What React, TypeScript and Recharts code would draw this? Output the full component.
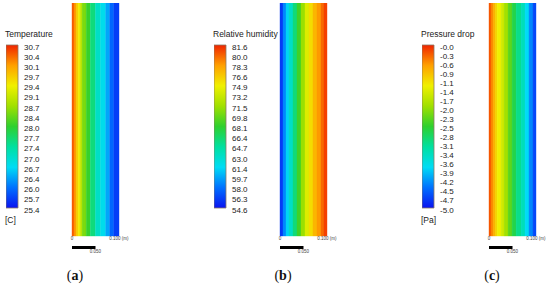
import React from 'react';
import { BarChart, Bar, XAxis, YAxis } from 'recharts';

// colour bar labels, top to bottom
const tempLabels = ['30.7', '30.4', '30.1', '29.7', '29.4', '29.1', '28.7', '28.4', '28.0', '27.7', '27.4', '27.0', '26.7', '26.4', '26.0', '25.7', '25.4'];
const rhLabels = ['81.6', '80.0', '78.3', '76.6', '74.9', '73.2', '71.5', '69.8', '68.1', '66.4', '64.7', '63.0', '61.4', '59.7', '58.0', '56.3', '54.6'];
const dpLabels = ['-0.0', '-0.3', '-0.6', '-0.9', '-1.1', '-1.4', '-1.7', '-2.0', '-2.3', '-2.5', '-2.8', '-3.1', '-3.4', '-3.6', '-3.9', '-4.2', '-4.5', '-4.7', '-5.0'];

// contour bands across the 0.100 m section, left to right: width (m) and field value
const tempWidths = [0.0043, 0.0043, 0.0043, 0.0043, 0.0043, 0.0087, 0.0087, 0.0109, 0.0109, 0.0109, 0.0087, 0.0087, 0.011];
const tempValues = [30.4, 30.1, 29.7, 29.4, 29.0, 28.5, 28.1, 27.6, 27.1, 26.8, 26.4, 26.0, 25.7];

const rhWidths = [0.0064, 0.0064, 0.0064, 0.0085, 0.0085, 0.0085, 0.0085, 0.0085, 0.0085, 0.0085, 0.0085, 0.0064, 0.0064];
const rhValues = [56.0, 58.7, 61.1, 63.2, 65.9, 68.6, 71.3, 74.0, 75.7, 77.3, 78.4, 79.7, 80.8];

const dpWidths = [0.0043, 0.0043, 0.0043, 0.0043, 0.0085, 0.0064, 0.0085, 0.0085, 0.0085, 0.0106, 0.0085, 0.0085, 0.0085, 0.0063];
const dpValues = [-0.25, -0.5, -0.75, -1.0, -1.25, -1.5, -1.85, -2.25, -2.65, -3.0, -3.3, -3.75, -4.25, -4.65];

const rulerTicks = [0, 0.1];
const scaleTick = [0.05];

// rainbow colour map
const cmap: [number, string][] = [
  [0, '#0a14f0'],
  [0.125, '#0070ff'],
  [0.25, '#00dcf5'],
  [0.375, '#00e0a0'],
  [0.5, '#2ed02e'],
  [0.625, '#a0e000'],
  [0.75, '#f0f000'],
  [0.875, '#ffa000'],
  [1, '#f02400'],
];

const hex = (c: string) => [1, 3, 5].map((i) => parseInt(c.slice(i, i + 2), 16));

const colorAt = (t: number) => {
  const tt = Math.max(0, Math.min(1, t));
  for (let i = 0; i < cmap.length - 1; i++) {
    const [t0, c0] = cmap[i];
    const [t1, c1] = cmap[i + 1];
    if (tt <= t1) {
      const f = (tt - t0) / (t1 - t0);
      const a = hex(c0);
      const b = hex(c1);
      const rgb = a.map((v, k) => Math.round(v + (b[k] - v) * f));
      return `rgb(${rgb.join(',')})`;
    }
  }
  return cmap[cmap.length - 1][1];
};

const sans = 'Liberation Sans, Arial, sans-serif';

const rulerTick = (fmt: (v: number) => string) => (props: any) => (
  <text x={props.x} y={props.y} dy={3} textAnchor="middle" fontSize={4.5} fill="#444" fontFamily={sans}>
    {fmt(props.payload.value)}
  </text>
);

interface PanelProps {
  id: string;
  x: number;
  fieldX: number;
  title: string;
  unit?: string;
  labels: string[];
  widths: number[];
  values: number[];
  caption: string;
}

const Panel = ({ id, x, fieldX, title, unit, labels, widths, values, caption }: PanelProps) => {
  const n = labels.length - 1;
  const max = Number(labels[0]);
  const min = Number(labels[n]);
  // colour bar is laid out by level index, 0 at the bottom
  const levels = labels.map((_, i) => n - i);

  const barData = [{ name: 'cb', range: [0, n] }];
  const fieldRow: Record<string, number | string> = { name: 'field' };
  widths.forEach((w, i) => {
    fieldRow[`b${i}`] = w;
  });

  const levelTick = (props: any) => (
    <text x={props.x} y={props.y} dy={4.5} textAnchor="start" fontSize={8} fill="#222" fontFamily={sans}>
      {labels[n - props.payload.value]}
    </text>
  );

  return (
    <>
      <div style={{ position: 'absolute', left: x + 5, top: 30, fontSize: 8.5, lineHeight: '9px', color: '#222', whiteSpace: 'nowrap' }}>
        {title}
      </div>
      <div style={{ position: 'absolute', left: x + 6, top: 40 }}>
        <BarChart width={52} height={178} data={barData} margin={{ top: 5, bottom: 10, left: 0, right: 0 }} barCategoryGap={0}>
          <defs>
            <linearGradient id={`grad-${id}`} x1="0" y1="0" x2="0" y2="1">
              {[...cmap].reverse().map(([t, c]) => (
                <stop key={t} offset={1 - t} stopColor={c} />
              ))}
            </linearGradient>
          </defs>
          <XAxis dataKey="name" hide />
          <YAxis
            orientation="right"
            type="number"
            domain={[0, n]}
            ticks={levels}
            interval={0}
            width={40}
            axisLine={false}
            tickLine={false}
            tickSize={0}
            tickMargin={6}
            tick={levelTick}
          />
          <Bar dataKey="range" fill={`url(#grad-${id})`} stroke="#8a7a66" strokeWidth={0.8} isAnimationActive={false} />
        </BarChart>
      </div>
      {unit && (
        <div style={{ position: 'absolute', left: x + 5, top: 216, fontSize: 8.5, lineHeight: '9px', color: '#222' }}>{unit}</div>
      )}
      <div style={{ position: 'absolute', left: fieldX - 6, top: 3 }}>
        <BarChart width={67} height={243} data={[fieldRow]} layout="vertical" margin={{ top: 0, bottom: 0, left: 6, right: 14 }} barCategoryGap={0}>
          <XAxis
            type="number"
            domain={[0, 0.1]}
            ticks={rulerTicks}
            interval={0}
            height={10}
            axisLine={false}
            tickLine={false}
            tickSize={0}
            tickMargin={1}
            tick={rulerTick((v) => (v === 0 ? '0' : `${v.toFixed(3)} (m)`))}
          />
          <YAxis type="category" dataKey="name" hide />
          {widths.map((_, i) => {
            const c = colorAt((values[i] - min) / (max - min));
            return <Bar key={i} dataKey={`b${i}`} stackId="f" fill={c} stroke={c} strokeWidth={0.4} isAnimationActive={false} />;
          })}
        </BarChart>
      </div>
      <div style={{ position: 'absolute', left: fieldX - 6, top: 246 }}>
        <BarChart width={67} height={12} data={[{ name: 'r', len: 0.05 }]} layout="vertical" margin={{ top: 0, bottom: 0, left: 6, right: 14 }} barCategoryGap={0}>
          <XAxis
            type="number"
            domain={[0, 0.1]}
            ticks={scaleTick}
            interval={0}
            height={9}
            axisLine={false}
            tickLine={false}
            tickSize={0}
            tickMargin={1}
            tick={rulerTick((v) => v.toFixed(3))}
          />
          <YAxis type="category" dataKey="name" hide />
          <Bar dataKey="len" fill="#000" isAnimationActive={false} />
        </BarChart>
      </div>
      <div
        style={{
          position: 'absolute',
          left: fieldX + 3 - 30,
          width: 60,
          top: 268,
          textAlign: 'center',
          fontFamily: 'Liberation Serif, serif',
          fontSize: 14,
          lineHeight: '16px',
          color: '#111',
        }}
      >
        (<b>{caption}</b>)
      </div>
    </>
  );
};

export default function App() {
  return (
    <div style={{ position: 'absolute', left: 0, top: 0, width: 550, height: 288, background: '#fff', fontFamily: sans, overflow: 'hidden' }}>
      <Panel id="a" x={0} fieldX={72} title="Temperature" unit="[C]" labels={tempLabels} widths={tempWidths} values={tempValues} caption="a" />
      <Panel id="b" x={208} fieldX={280} title="Relative humidity" labels={rhLabels} widths={rhWidths} values={rhValues} caption="b" />
      <Panel id="c" x={416} fieldX={489} title="Pressure drop" unit="[Pa]" labels={dpLabels} widths={dpWidths} values={dpValues} caption="c" />
    </div>
  );
}
